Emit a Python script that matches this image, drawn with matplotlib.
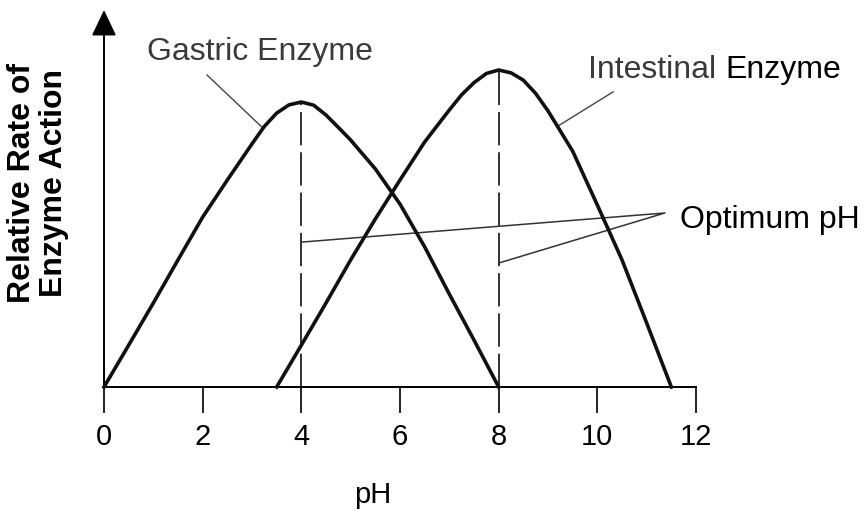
"""
plot.py
Relative rate of enzyme action vs pH for gastric and intestinal enzymes.
"""
import numpy as np
import matplotlib
matplotlib.use( 'Agg' )
import matplotlib.pyplot as plt

plt.rcParams['font.family'] = [ 'Liberation Sans', 'DejaVu Sans' ]
plt.rcParams['lines.scale_dashes'] = False

#-------------------------------------------------------------------------
# Data (relative rate, intestinal peak = 100)
#-------------------------------------------------------------------------

gastric_ph   = [ 0, 0.5, 1, 1.5, 2, 2.5, 3, 3.25, 3.5, 3.75, 4, 4.25, 4.5, 4.75,
                 5, 5.5, 6, 6.5, 7, 7.5, 8 ]
gastric_rate = [ 0, 13.2, 26.5, 40.1, 53.6, 65.3, 76.7, 82.2, 86.4, 89.0, 89.9, 88.9,
                 85.8, 81.9, 77.9, 68.8, 57.7, 44.2, 29.3, 14.8, 0 ]

intest_ph    = [ 3.5, 4, 4.5, 5, 5.5, 6, 6.5, 7, 7.25, 7.5, 7.75, 8, 8.25, 8.5,
                 8.75, 9, 9.5, 10, 10.5, 11, 11.5 ]
intest_rate  = [ 0, 13.2, 26.5, 40.1, 53.0, 65.3, 77.3, 87.4, 92.2, 96.0, 98.9, 100,
                 99.1, 96.8, 92.6, 87.1, 74.4, 57.4, 40.1, 20.2, 0 ]

xticks = [ 0, 2, 4, 6, 8, 10, 12 ]

#-------------------------------------------------------------------------
# Figure
#-------------------------------------------------------------------------

W, H = 866, 511
fig = plt.figure( figsize=( W/100, H/100 ), dpi=100 )

# axes box in pixels: x 0..12 -> 104..696, y baseline at 387, top at 10
ax = fig.add_axes( [ 104/W, (H-387)/H, 592/W, 377/H ] )
ax.set_xlim( 0, 12 )
ax.set_ylim( 0, 377/3.17 )

for s in [ 'top', 'right', 'left' ]:
  ax.spines[s].set_visible( False )
ax.spines['bottom'].set_linewidth( 1.4 )

ax.set_xticks( xticks )
ax.set_xticklabels( [ str(t) for t in xticks ] )
ax.set_yticks( [] )
ax.tick_params( axis='x', direction='out', length=19, width=1.2,
                pad=7, labelsize=21 )

# y axis as an arrow
ax.annotate( '', xy=( 0, ax.get_ylim()[1] ), xytext=( 0, 0 ),
             arrowprops=dict( arrowstyle='-|>,head_length=0.8,head_width=0.38',
                              mutation_scale=20, lw=1.4, color='black',
                              shrinkA=0, shrinkB=0 ),
             annotation_clip=False )

# curves
ax.plot( gastric_ph, gastric_rate, color='#111111', lw=2.6,
         solid_joinstyle='round', clip_on=False, zorder=3 )
ax.plot( intest_ph, intest_rate, color='#111111', lw=2.6,
         solid_joinstyle='round', clip_on=False, zorder=3 )

# optimum pH dashed lines
g_i = int( np.argmax( gastric_rate ) )
i_i = int( np.argmax( intest_rate ) )
g_opt, g_max = gastric_ph[g_i], gastric_rate[g_i]
i_opt, i_max = intest_ph[i_i], intest_rate[i_i]

for xo, ym in [ ( g_opt, g_max ), ( i_opt, i_max ) ]:
  ax.plot( [ xo, xo ], [ 0, ym ], color='#222222', lw=1.3,
           dashes=( 24, 5 ), clip_on=False, zorder=2 )

#-------------------------------------------------------------------------
# Labels and leader lines
#-------------------------------------------------------------------------

lc = '#444444'

ax.text( 0.87, 103.2, 'Gastric Enzyme', fontsize=23, color='#3a3a3a',
         ha='left', va='baseline' )
ax.plot( [ 2.09, 3.2 ], [ 98.4, 82.0 ], color=lc, lw=1.0, clip_on=False )

ax.text( 9.81, 97.5, 'Intestinal', fontsize=23, color='#3a3a3a',
         ha='left', va='baseline', clip_on=False )
ax.text( 12.6, 97.5, 'Enzyme', fontsize=23, color='black',
         ha='left', va='baseline', clip_on=False )
ax.plot( [ 10.32, 9.2 ], [ 93.1, 82.3 ], color=lc, lw=1.0, clip_on=False )

ax.text( 11.68, 50.2, 'Optimum pH', fontsize=23, color='black',
         ha='left', va='baseline', clip_on=False )
ax.plot( [ g_opt, 11.37, i_opt ], [ 45.7, 54.9, 39.1 ], color='#333333',
         lw=1.1, clip_on=False )

fig.text( 373/W, 1 - 495/H, 'pH', fontsize=21, ha='center', va='center' )
fig.text( 38/W, 1 - 183/H, 'Relative Rate of\nEnzyme Action', fontsize=23,
          fontweight='bold', rotation=90, ha='center', va='center',
          multialignment='center', linespacing=1.05 )

fig.savefig( 'out.png', dpi=100 )
